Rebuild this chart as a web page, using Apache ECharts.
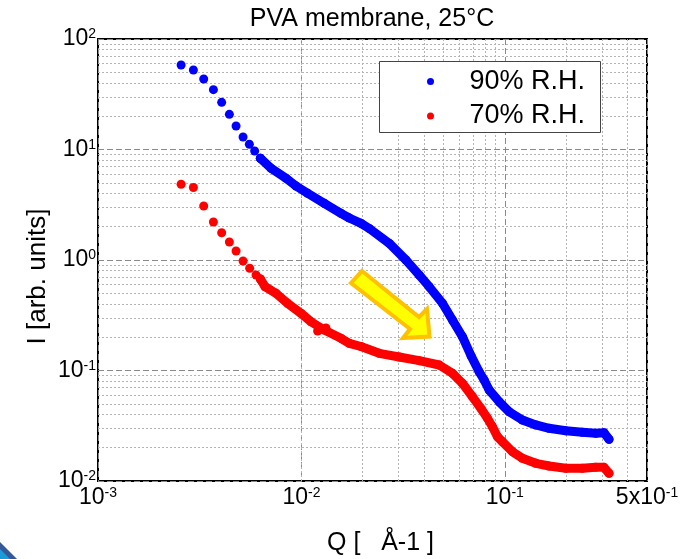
<!DOCTYPE html>
<html>
<head>
<meta charset="utf-8">
<script src="https://cdn.jsdelivr.net/npm/echarts@6/dist/echarts.min.js"></script>
<style>
  html, body { margin: 0; padding: 0; background: #fff; }
  #chart { width: 696px; height: 559px; }
</style>
</head>
<body>
<div id="chart"></div>
<script>
// ---- data (Q in 1/Å, I in arb. units) ----
const seriesNames = ['90% R.H.', '70% R.H.'];

// sparse, separately visible points (low Q) and stray points
const blueSparseQ = [0.002562, 0.002944, 0.003309, 0.003693, 0.004055, 0.004424, 0.004772, 0.005166, 0.005548, 0.005891, 0.006284];
const blueSparseI = [58.2, 52.4, 43.5, 34.8, 26.7, 20.8, 16.3, 12.98, 11.15, 9.69, 8.33];
const redSparseQ  = [0.002562, 0.002944, 0.003309, 0.003693, 0.004055, 0.004424, 0.004772, 0.005166, 0.005567, 0.005984, 0.006284, 0.012015, 0.013206];
const redSparseI  = [4.853, 4.53, 3.081, 2.207, 1.766, 1.455, 1.206, 0.9795, 0.8414, 0.7317, 0.673, 0.2278, 0.2424];

// dense (overlapping) part of each curve
const blueDenseQ = [0.006284, 0.007091, 0.008403, 0.009408, 0.010727, 0.012956, 0.015648, 0.017193, 0.019626, 0.021561, 0.027018, 0.032644, 0.037944, 0.042485, 0.04937, 0.05527, 0.06188, 0.06831, 0.07477, 0.07911, 0.08375, 0.09376, 0.10498, 0.12202, 0.14204, 0.16507, 0.19934, 0.24044, 0.27990, 0.30737, 0.32527];
const blueDenseI = [8.33, 6.76, 5.49, 4.67, 4.015, 3.26, 2.646, 2.399, 2.148, 1.928, 1.416, 1.0, 0.7317, 0.5733, 0.4056, 0.2864, 0.2022, 0.1353, 0.09752, 0.08204, 0.06661, 0.05219, 0.04238, 0.03565, 0.03213, 0.02998, 0.02852, 0.02759, 0.02702, 0.02736, 0.02384];
const redDenseQ = [0.006284, 0.006626, 0.007502, 0.008555, 0.009954, 0.011147, 0.012956, 0.015648, 0.017193, 0.019626, 0.024135, 0.030259, 0.037944, 0.04757, 0.05527, 0.06188, 0.06933, 0.07622, 0.08213, 0.0869, 0.09199, 0.09732, 0.10896, 0.12202, 0.14204, 0.16507, 0.19934, 0.24044, 0.27990, 0.30737, 0.32527];
const redDenseI = [0.673, 0.5733, 0.4995, 0.4056, 0.3293, 0.2764, 0.2325, 0.1956, 0.1763, 0.1649, 0.1431, 0.1325, 0.1227, 0.1121, 0.09434, 0.07658, 0.05792, 0.04548, 0.03693, 0.031, 0.02517, 0.02268, 0.01842, 0.01604, 0.01446, 0.01367, 0.01303, 0.01303, 0.0133, 0.0133, 0.01174];

// tick labels
const xTickValues = [0.001, 0.01, 0.1, 0.5];
const xTickBase   = ['10', '10', '10', '5x10'];
const xTickExp    = ['-3', '-2', '-1', '-1'];
const yTickValues = [0.01, 0.1, 1, 10, 100];
const yTickBase   = ['10', '10', '10', '10', '10'];
const yTickExp    = ['-2', '-1', '0', '1', '2'];

// minor grid positions
const xMinor = [0.002, 0.003, 0.004, 0.005, 0.006, 0.007, 0.008, 0.009,
                0.02, 0.03, 0.04, 0.05, 0.06, 0.07, 0.08, 0.09,
                0.2, 0.3, 0.4];
const yMinor = [0.02, 0.03, 0.04, 0.05, 0.06, 0.07, 0.08, 0.09,
                0.2, 0.3, 0.4, 0.5, 0.6, 0.7, 0.8, 0.9,
                2, 3, 4, 5, 6, 7, 8, 9,
                20, 30, 40, 50, 60, 70, 80, 90];

const FONT = "'Liberation Sans', Arial, Helvetica, sans-serif";
const pair = (qs, is) => qs.map((q, i) => [q, is[i]]);

function tickFormatter(values, bases, exps) {
  return function (v) {
    let idx = -1;
    for (let i = 0; i < values.length; i++) {
      if (Math.abs(v - values[i]) / values[i] < 1e-6) { idx = i; break; }
    }
    if (idx < 0) return '';
    return '{b|' + bases[idx] + '}{s|' + exps[idx] + '}';
  };
}
const richStyle = {
  b: { fontSize: 23, fontFamily: FONT, color: '#000' },
  s: { fontSize: 14, fontFamily: FONT, color: '#000', verticalAlign: 'top' }
};

const BLUE = '#0000ff', RED = '#ff0000';
const SYM = 9;

const chart = echarts.init(document.getElementById('chart'), null, { renderer: 'canvas' });
chart.setOption({
  animation: false,
  backgroundColor: '#ffffff',
  grid: { left: 98, top: 39, right: 49, bottom: 78, show: true, borderColor: '#000', borderWidth: 2, backgroundColor: 'transparent' },
  xAxis: {
    type: 'log', logBase: 10, min: 0.001, max: 0.5,
    axisLine: { show: false }, axisTick: { show: false },
    axisLabel: { margin: 5, formatter: tickFormatter(xTickValues, xTickBase, xTickExp), rich: richStyle, showMinLabel: true, showMaxLabel: true },
    splitLine: { show: true, lineStyle: { color: '#8a8a8a', type: [6, 3], width: 1 } }
  },
  yAxis: {
    type: 'log', logBase: 10, min: 0.01, max: 100,
    axisLine: { show: false }, axisTick: { show: false },
    axisLabel: { margin: 2, formatter: tickFormatter(yTickValues, yTickBase, yTickExp), rich: richStyle, showMinLabel: true, showMaxLabel: true },
    splitLine: { show: true, lineStyle: { color: '#8a8a8a', type: [6, 3], width: 1 } }
  },
  legend: {
    data: seriesNames,
    orient: 'vertical', left: 410, top: 61,
    padding: [5.5, 16, 2, 17],
    itemWidth: 68, itemHeight: 7, itemGap: 4.5,
    icon: 'circle',
    textStyle: { fontSize: 27, lineHeight: 30, fontFamily: FONT, color: '#000' },
    borderWidth: 0, backgroundColor: 'transparent',
    selectedMode: false, z: 6
  },
  series: [
    { name: seriesNames[0], type: 'scatter', symbol: 'circle', symbolSize: SYM, z: 3,
      itemStyle: { color: BLUE, opacity: 1 }, data: pair(blueSparseQ, blueSparseI) },
    { name: seriesNames[1], type: 'scatter', symbol: 'circle', symbolSize: SYM, z: 3,
      itemStyle: { color: RED, opacity: 1 }, data: pair(redSparseQ, redSparseI) },
    { name: seriesNames[0], type: 'line', symbol: 'circle', symbolSize: SYM, showSymbol: true, z: 3,
      itemStyle: { color: BLUE, opacity: 1 }, lineStyle: { color: BLUE, width: 9, cap: 'round', join: 'round' },
      data: pair(blueDenseQ, blueDenseI) },
    { name: seriesNames[1], type: 'line', symbol: 'circle', symbolSize: SYM, showSymbol: true, z: 3,
      itemStyle: { color: RED, opacity: 1 }, lineStyle: { color: RED, width: 9, cap: 'round', join: 'round' },
      data: pair(redDenseQ, redDenseI) },
    { name: 'minor-grid', type: 'line', data: [], silent: true, z: 1,
      markLine: {
        silent: true, z: 1, symbol: ['none', 'none'], animation: false,
        label: { show: false },
        emphasis: { disabled: true },
        lineStyle: { color: '#b4b4b4', type: [2, 2], width: 1 },
        data: xMinor.map(v => ({ xAxis: v })).concat(yMinor.map(v => ({ yAxis: v })))
      } }
  ],
  graphic: [
    { type: 'text', x: 372, y: 19, z: 10,
      style: { text: 'PVA membrane, 25°C', fontSize: 25, fontFamily: FONT, fill: '#000', align: 'center', verticalAlign: 'middle' } },
    { type: 'text', x: 327, y: 543, z: 10,
      style: { text: 'Q [   Å-1 ]', fontSize: 25, fontFamily: FONT, fill: '#000', align: 'left', verticalAlign: 'middle' } },
    { type: 'text', x: 37.5, y: 276.5, rotation: Math.PI / 2, z: 10,
      style: { text: 'I [arb. units]', fontSize: 26, fontFamily: FONT, fill: '#000', align: 'center', verticalAlign: 'middle' } },
    { type: 'rect', z: 5,
      shape: { x: 379.5, y: 61.5, width: 221, height: 71 },
      style: { fill: '#ffffff', stroke: '#444444', lineWidth: 1 } },
    { type: 'polygon', z: 10,
      shape: { points: [[362, 271], [419, 317], [427, 309], [429.5, 336.5], [403, 338], [410, 329], [351, 283]] },
      style: { fill: '#ffff00', stroke: '#ffc000', lineWidth: 4, lineJoin: 'miter' } },
    { type: 'polygon', z: 10,
      shape: { points: [[0, 542], [17, 559], [0, 559]] },
      style: { fill: '#34589a' } },
    { type: 'polygon', z: 11,
      shape: { points: [[0, 549], [10, 559], [0, 559]] },
      style: { fill: '#1c9ad6' } }
  ]
});
</script>
</body>
</html>
